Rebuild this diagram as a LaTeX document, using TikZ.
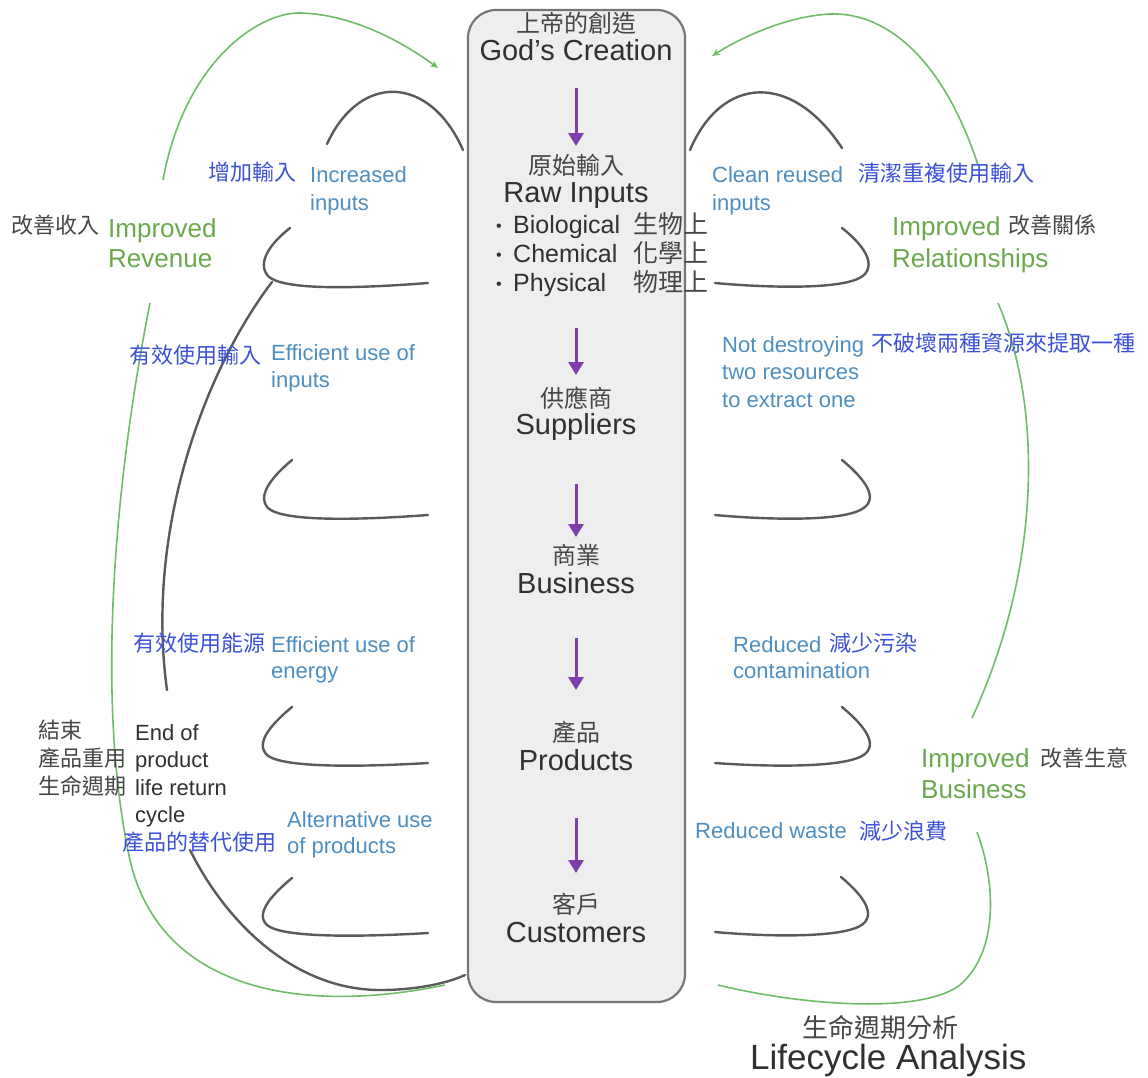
\documentclass[tikz,border=0pt]{standalone}
\usepackage{fontspec}
\setmainfont{Liberation Sans}
\newfontfamily\cjk{Noto Sans CJK TC}
\usetikzlibrary{arrows.meta}
\definecolor{cjkblue}{RGB}{62,82,215}
\definecolor{enblue}{RGB}{78,142,192}
\definecolor{grn}{RGB}{108,168,78}
\definecolor{grnline}{RGB}{112,188,104}
\definecolor{dk}{RGB}{48,48,48}
\definecolor{dkzh}{RGB}{70,70,70}
\definecolor{curvec}{RGB}{90,90,90}
\definecolor{purp}{RGB}{128,62,170}
\definecolor{boxfill}{RGB}{238,238,238}
\definecolor{boxdraw}{RGB}{118,118,118}
\begin{document}
\begin{tikzpicture}[x=1pt,y=-1pt,
  lbl/.style={inner sep=0pt, anchor=base west},
  cbl/.style={inner sep=0pt, anchor=base},
  en/.style={lbl, text=enblue, font=\fontsize{22}{26}\selectfont},
  zh/.style={lbl, text=cjkblue, font=\cjk\fontsize{22}{26}\selectfont},
  gren/.style={lbl, text=grn, font=\fontsize{26}{30}\selectfont},
  dkzhs/.style={lbl, text=dkzh, font=\cjk\fontsize{22}{26}\selectfont},
  dken/.style={lbl, text=dk, font=\fontsize{22}{26}\selectfont},
  mainen/.style={cbl, text=dk, font=\fontsize{29}{33}\selectfont},
  mainzh/.style={cbl, text=dkzh, font=\cjk\fontsize{24}{28}\selectfont},
  bulen/.style={lbl, text=dk, font=\fontsize{25}{29}\selectfont},
  bulzh/.style={lbl, text=dkzh, font=\cjk\fontsize{25}{29}\selectfont},
  flow/.style={draw=purp, line width=3pt, -{Triangle[length=13pt,width=15pt]}},
  hook/.style={draw=curvec, line width=2.4pt, line cap=round},
  gline/.style={draw=grnline, line width=1.6pt},
  garrow/.style={gline, -{Stealth[length=8pt,width=7pt]}}
]
\useasboundingbox (0,0) rectangle (1148,1077);
\fill[white] (0,0) rectangle (1148,1077);

% central box
\node[draw=boxdraw, fill=boxfill, line width=2.2pt, rounded corners=28pt,
      minimum width=217pt, minimum height=992pt, inner sep=0pt] (box) at (576.5,506) {};

% central texts
\node[mainzh] (godzh) at (576,32) {上帝的創造};
\node[mainen] (goden) at (576,60) {God's Creation};
\node[mainzh] (rawzh) at (576,174) {原始輸入};
\node[mainen] (rawen) at (576,202) {Raw Inputs};
\node[lbl, text=dk, font=\fontsize{16}{18}\selectfont] (b1) at (496,231) {•};
\node[lbl, text=dk, font=\fontsize{16}{18}\selectfont] (b2) at (496,260) {•};
\node[lbl, text=dk, font=\fontsize{16}{18}\selectfont] (b3) at (496,289) {•};
\node[bulen] (bio) at (513,233) {Biological};
\node[bulen] (chem) at (513,262) {Chemical};
\node[bulen] (phys) at (513,291) {Physical};
\node[bulzh] (bioz) at (633,233) {生物上};
\node[bulzh] (chemz) at (633,262) {化學上};
\node[bulzh] (physz) at (633,291) {物理上};
\node[mainzh] (supzh) at (576,407) {供應商};
\node[mainen] (supen) at (576,434) {Suppliers};
\node[mainzh] (buszh) at (576,564) {商業};
\node[mainen] (busen) at (576,593) {Business};
\node[mainzh] (prozh) at (576,741) {產品};
\node[mainen] (proen) at (576,770) {Products};
\node[mainzh] (cuszh) at (576,913) {客戶};
\node[mainen] (cusen) at (576,942) {Customers};

% flow arrows
\coordinate (a1s) at (576,88);  \coordinate (a1e) at (576,146);
\coordinate (a2s) at (576,328); \coordinate (a2e) at (576,375);
\coordinate (a3s) at (576,484); \coordinate (a3e) at (576,537);
\coordinate (a4s) at (576,638); \coordinate (a4e) at (576,690);
\coordinate (a5s) at (576,818); \coordinate (a5e) at (576,873);
\draw[flow] (a1s) -- (a1e);
\draw[flow] (a2s) -- (a2e);
\draw[flow] (a3s) -- (a3e);
\draw[flow] (a4s) -- (a4e);
\draw[flow] (a5s) -- (a5e);

% gray curves left
\draw[hook] (327,144) .. controls (360,72) and (430,75) .. (463,150);
\draw[hook] (290,228) .. controls (272,242) and (256,262) .. (268,276) .. controls (282,290) and (350,289) .. (428,283);
\draw[hook] (272,282) .. controls (205,370) and (145,530) .. (167,690);
\draw[hook] (292,460) .. controls (274,475) and (256,495) .. (268,508) .. controls (283,522) and (360,520) .. (428,515);
\draw[hook] (292,707) .. controls (274,722) and (254,742) .. (267,755) .. controls (282,768) and (360,767) .. (428,763);
\draw[hook] (292,878) .. controls (274,893) and (254,913) .. (267,925) .. controls (282,938) and (360,937) .. (428,933);
\draw[hook] (190,850) .. controls (230,930) and (300,990) .. (380,990) .. controls (420,990) and (450,982) .. (465,975);
% gray curves right
\draw[hook] (690,150) .. controls (722,75) and (792,72) .. (842,148);
\draw[hook] (842,228) .. controls (860,242) and (877,262) .. (864,275) .. controls (848,290) and (770,288) .. (715,283);
\draw[hook] (842,460) .. controls (860,475) and (879,495) .. (865,507) .. controls (848,522) and (770,520) .. (715,515);
\draw[hook] (842,707) .. controls (860,722) and (879,742) .. (865,754) .. controls (848,768) and (770,767) .. (715,763);
\draw[hook] (841,877) .. controls (859,892) and (877,912) .. (863,924) .. controls (846,938) and (770,937) .. (715,932);

% green curves
\draw[garrow] (163,180) .. controls (185,60) and (260,12) .. (300,13) .. controls (350,14) and (400,40) .. (438,68);
\draw[gline] (150,303) .. controls (115,480) and (95,700) .. (130,860) .. controls (160,990) and (300,1015) .. (445,985);
\draw[garrow] (978,165) .. controls (940,50) and (880,12) .. (830,14) .. controls (790,16) and (745,35) .. (712,56);
\draw[gline] (998,303) .. controls (1040,400) and (1045,560) .. (972,718);
\draw[gline] (977,832) .. controls (995,880) and (1000,950) .. (960,985) .. controls (920,1015) and (800,1005) .. (718,985);

% left labels
\node[zh] (incz) at (208,180) {增加輸入};
\node[en] (inc1) at (310,182) {Increased};
\node[en] (inc2) at (310,210) {inputs};
\node[dkzhs] (revz) at (11,233) {改善收入};
\node[gren] (rev1) at (108,237) {Improved};
\node[gren] (rev2) at (108,267) {Revenue};
\node[zh] (effz) at (129,363) {有效使用輸入};
\node[en] (eff1) at (271,360) {Efficient use of};
\node[en] (eff2) at (271,387) {inputs};
\node[zh] (enez) at (133,651) {有效使用能源};
\node[en] (ene1) at (271,652) {Efficient use of};
\node[en] (ene2) at (271,678) {energy};
\node[dkzhs] (endz1) at (38,738) {結束};
\node[dkzhs] (endz2) at (38,766) {產品重用};
\node[dkzhs] (endz3) at (38,794) {生命週期};
\node[dken] (end1) at (135,740) {End of};
\node[dken] (end2) at (135,767) {product};
\node[dken] (end3) at (135,795) {life return};
\node[dken] (end4) at (135,822) {cycle};
\node[zh] (altz) at (122,850) {產品的替代使用};
\node[en] (alt1) at (287,827) {Alternative use};
\node[en] (alt2) at (287,853) {of products};

% right labels
\node[en] (cln1) at (712,182) {Clean reused};
\node[zh] (clnz) at (858,181) {清潔重複使用輸入};
\node[en] (cln2) at (712,210) {inputs};
\node[gren] (rel1) at (892,235) {Improved};
\node[dkzhs] (relz) at (1008,233) {改善關係};
\node[gren] (rel2) at (892,267) {Relationships};
\node[en] (nd1) at (722,352) {Not destroying};
\node[zh] (ndz) at (871,351) {不破壞兩種資源來提取一種};
\node[en] (nd2) at (722,379) {two resources};
\node[en] (nd3) at (722,407) {to extract one};
\node[en] (rc1) at (733,652) {Reduced};
\node[zh] (rcz) at (829,651) {減少污染};
\node[en] (rc2) at (733,678) {contamination};
\node[gren] (ib1) at (921,767) {Improved};
\node[dkzhs] (ibz) at (1040,766) {改善生意};
\node[gren] (ib2) at (921,798) {Business};
\node[en] (rw1) at (695,838) {Reduced waste};
\node[zh] (rwz) at (859,839) {減少浪費};

% bottom title
\node[lbl, text=dkzh, font=\cjk\fontsize{26}{30}\selectfont] (lcz) at (802,1037) {生命週期分析};
\node[lbl, text=dk, font=\fontsize{35}{39}\selectfont] (lcen) at (750,1069) {Lifecycle Analysis};
\end{tikzpicture}
\end{document}
